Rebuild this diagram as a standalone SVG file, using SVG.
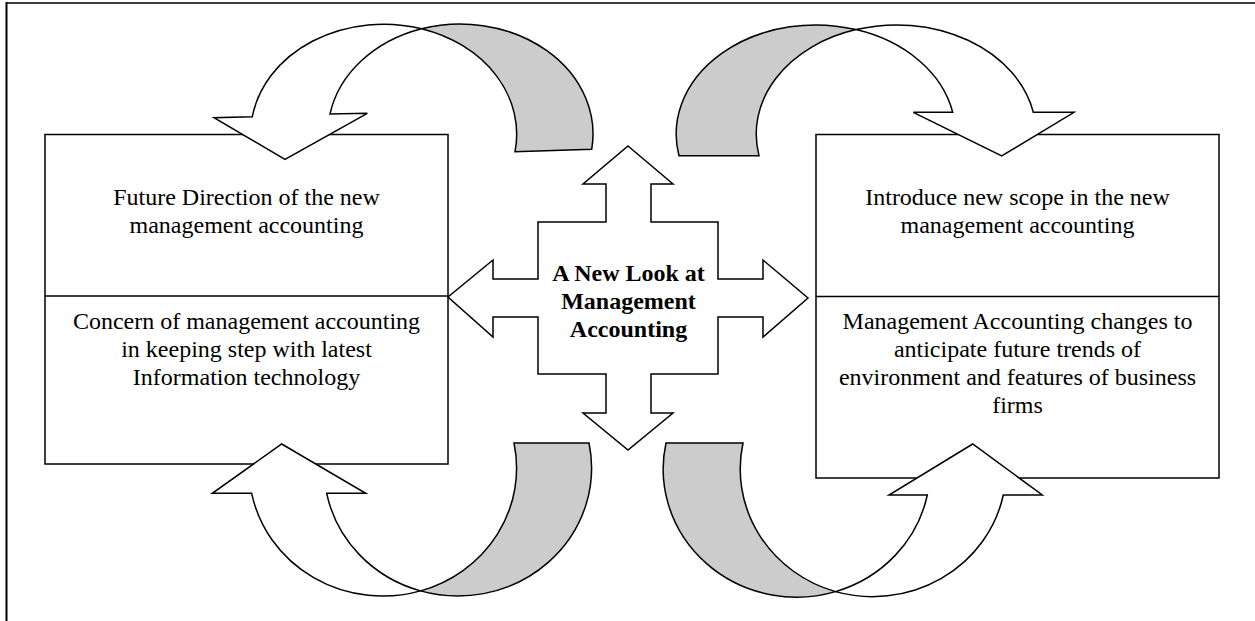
<svg xmlns="http://www.w3.org/2000/svg" width="1255" height="621" viewBox="0 0 1255 621">
<style>
.frame{fill:none;stroke:#000}
.box{fill:#fff;stroke:#000;stroke-width:1.5}
.ln{stroke:#000;stroke-width:1.5}
.wh{fill:#fff;stroke:#000;stroke-width:1.5;stroke-linejoin:miter}
.gr{fill:#cccccc;stroke:#000;stroke-width:1.5;stroke-linejoin:miter}
.t{font-family:"Liberation Serif","Times New Roman",serif;font-size:24px;fill:#000;text-anchor:middle}
.tb{font-weight:bold}
</style>
<rect x="0" y="0" width="1255" height="621" fill="#fff"/>
<line class="frame" x1="6" y1="3" x2="1255" y2="3" stroke-width="1.6"/>
<line class="frame" x1="6.5" y1="2" x2="6.5" y2="621" stroke-width="2"/>

<g id="left-box">
<rect class="box" x="45" y="134.5" width="403" height="329.5"/>
<line class="ln" x1="45" y1="296" x2="448" y2="296"/>
<text class="t" x="246.5" y="204.5">Future Direction of the new</text>
<text class="t" x="246.5" y="232.5">management accounting</text>
<text class="t" x="246.5" y="328.5">Concern of management accounting</text>
<text class="t" x="246.5" y="356.5">in keeping step with latest</text>
<text class="t" x="246.5" y="384.5">Information technology</text>
</g>

<g id="right-box">
<rect class="box" x="816" y="134.5" width="403" height="343.5"/>
<line class="ln" x1="816" y1="296.5" x2="1219" y2="296.5"/>
<text class="t" x="1017.5" y="204.5">Introduce new scope in the new</text>
<text class="t" x="1017.5" y="232.5">management accounting</text>
<text class="t" x="1017.5" y="328.5">Management Accounting changes to</text>
<text class="t" x="1017.5" y="356.5">anticipate future trends of</text>
<text class="t" x="1017.5" y="384.5">environment and features of business</text>
<text class="t" x="1017.5" y="412.5">firms</text>
</g>

<g id="center">
<path class="wh" d="M628,146 L673,184 L651,184 L651,222 L718,222 L718,279 L763,279 L763,260 L808,298 L763,337 L763,317 L718,317 L718,374 L651,374 L651,413 L673,413 L628,450 L583,413 L606,413 L606,374 L538,374 L538,317 L493,317 L493,337 L448,297 L493,260 L493,279 L538,279 L538,222 L606,222 L606,184 L583,184 Z"/>
<text class="t tb" x="628.5" y="280.5">A New Look at</text>
<text class="t tb" x="628.5" y="308.5">Management</text>
<text class="t tb" x="628.5" y="336.5">Accounting</text>
</g>

<g id="connectors">
<g id="arrow-top-left">
<path class="wh" d="M252.3,116.7 A133 110 0 0 1 421.5,28.7 A133 110 0 0 0 330,114 L367.3,113.3 L285,159.3 L214,117.7 Z"/>
<path class="gr" d="M421.5,28.7 A133 110 0 0 1 591.7,149.3 L515,151.7 A133 110 0 0 0 421.5,28.7 Z"/>
</g>
<g id="arrow-top-right">
<path class="gr" d="M679,155.7 A139.5 109 0 0 1 856,29.6 A139.5 109 0 0 0 759,155.7 Z"/>
<path class="wh" d="M856,29.6 A139.5 109 0 0 1 1033.3,112.3 L1074,112.3 L1001.7,156 L913.3,112.3 L952.7,112.3 A139.5 109 0 0 0 856,29.6 Z"/>
</g>
<g id="arrow-bottom-left">
<path class="wh" d="M251.7,493.3 A133.7 128 0 0 0 420.5,590.9 A133.7 128 0 0 1 326.7,493.3 L365.7,493.3 L281.7,444 L212.3,493.3 Z"/>
<path class="gr" d="M420.5,590.9 A133.7 128 0 0 0 589,443 L514,443 A133.7 128 0 0 1 420.5,590.9 Z"/>
</g>
<g id="arrow-bottom-right">
<path class="gr" d="M666,443 A133.5 128 0 0 0 835.5,591.6 A133.5 128 0 0 1 743,443 Z"/>
<path class="wh" d="M835.5,591.6 A133.5 128 0 0 0 1003.3,495 L1042.3,495 L972.7,444 L889,495 L927.3,495 A133.5 128 0 0 1 835.5,591.6 Z"/>
</g>
</g>
</svg>
